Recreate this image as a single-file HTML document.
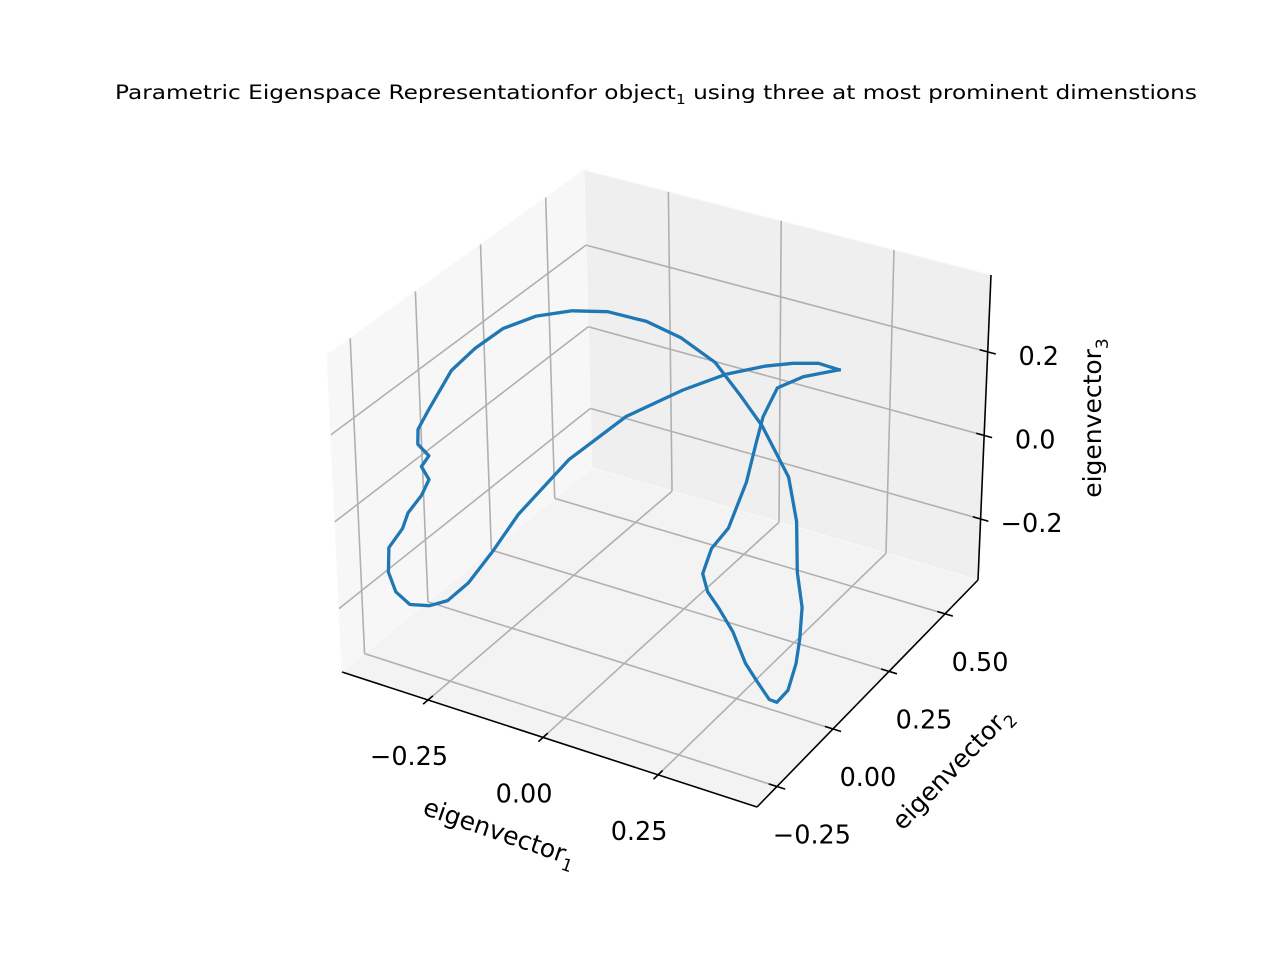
<!DOCTYPE html>
<html><head><meta charset="utf-8"><style>
html,body{margin:0;padding:0;background:#fff;}
svg{display:block;font-family:"DejaVu Sans","Liberation Sans",sans-serif;}
</style></head><body>
<svg id="chart" width="1280" height="960" viewBox="0 0 1280 960" xmlns="http://www.w3.org/2000/svg">
<rect width="1280" height="960" fill="#ffffff"/>
<text x="115" y="99" font-size="19.5" textLength="1082" lengthAdjust="spacingAndGlyphs" fill="#000">Parametric Eigenspace Representationfor object<tspan font-size="13" dy="5">1</tspan><tspan dy="-5"> using three at most prominent dimenstions</tspan></text>
<g id="panes"></g>
<g id="grid"></g>
<g id="axes"></g>
<g id="series"></g>
<text transform="translate(497,840) rotate(19)" text-anchor="middle" font-size="25">eigenvector<tspan font-size="17" dy="7">1</tspan></text>
<text transform="translate(958,774) rotate(-46)" text-anchor="middle" font-size="25">eigenvector<tspan font-size="17" dy="7">2</tspan></text>
<text transform="translate(1101,418) rotate(-90)" text-anchor="middle" font-size="25">eigenvector<tspan font-size="17" dy="7">3</tspan></text>
</svg>
<script>
const xLim = [-0.437, 0.465];
const yLim = [-0.339, 0.647];
const zLim = [-0.346, 0.384];
const xTicks = [-0.25, 0.0, 0.25];
const yTicks = [-0.25, 0.0, 0.25, 0.5];
const zTicks = [-0.2, 0.0, 0.2];
const xTickLabels = ["\u22120.25", "0.00", "0.25"];
const yTickLabels = ["\u22120.25", "0.00", "0.25", "0.50"];
const zTickLabels = ["\u22120.2", "0.0", "0.2"];
const curveX = [0.395,0.350,0.295,0.233,0.148,0.055,-0.071,-0.200,-0.316,-0.378,-0.435,-0.484,-0.526,-0.571,-0.602,-0.617,-0.613,-0.580,-0.566,-0.533,-0.515,-0.531,-0.513,-0.537,-0.535,-0.511,-0.455,-0.400,-0.338,-0.264,-0.185,-0.107,-0.023,0.051,0.126,0.182,0.228,0.286,0.304,0.306,0.317,0.312,0.304,0.286,0.261,0.244,0.217,0.190,0.162,0.130,0.106,0.095,0.115,0.153,0.193,0.215,0.230,0.261,0.317,0.395];
const curveZ = [0.378,0.380,0.364,0.339,0.295,0.231,0.131,-0.010,-0.175,-0.284,-0.376,-0.434,-0.460,-0.472,-0.452,-0.410,-0.350,-0.294,-0.252,-0.199,-0.156,-0.130,-0.099,-0.079,-0.043,0.008,0.122,0.192,0.257,0.309,0.345,0.366,0.368,0.352,0.316,0.254,0.199,0.098,0.001,-0.116,-0.194,-0.269,-0.328,-0.395,-0.431,-0.430,-0.398,-0.363,-0.299,-0.253,-0.224,-0.185,-0.120,-0.061,0.058,0.157,0.221,0.297,0.339,0.378];
const curveY = curveX.map(() => 0.154);

const NS = "http://www.w3.org/2000/svg";
const K = {
  A:[342,672], B:[757,807], C:[978,580], D:[592,468],
  A2:[327,355], B2:[752,477], C2:[991,275], D2:[584,170]
};
function lerp(p,q,t){return [p[0]+(q[0]-p[0])*t, p[1]+(q[1]-p[1])*t];}
function P(x,y,z){
  const u=(x-xLim[0])/(xLim[1]-xLim[0]);
  const v=(y-yLim[0])/(yLim[1]-yLim[0]);
  const w=(z-zLim[0])/(zLim[1]-zLim[0]);
  const f=lerp(lerp(K.A,K.B,u), lerp(K.D,K.C,u), v);
  const t=lerp(lerp(K.A2,K.B2,u), lerp(K.D2,K.C2,u), v);
  return lerp(f,t,w);
}
function mk(tag, parent, attrs){
  const e=document.createElementNS(NS,tag);
  for(const k in attrs) e.setAttribute(k, attrs[k]);
  parent.appendChild(e); return e;
}
function line(parent,p,q,stroke,sw){
  return mk("line",parent,{x1:p[0],y1:p[1],x2:q[0],y2:q[1],stroke:stroke,"stroke-width":sw});
}
function poly(parent,pts,fill){
  return mk("polygon",parent,{points:pts.map(p=>p.join(",")).join(" "),fill:fill,stroke:"#f8f8f8","stroke-width":1});
}
const panes=document.getElementById("panes");
const [x0,x1]=xLim,[y0,y1]=yLim,[z0,z1]=zLim;
let e;
e=poly(panes,[P(x0,y0,z0),P(x0,y1,z0),P(x0,y1,z1),P(x0,y0,z1)],"#f7f7f7");


e=poly(panes,[P(x0,y1,z0),P(x1,y1,z0),P(x1,y1,z1),P(x0,y1,z1)],"#efefef");


e=poly(panes,[P(x0,y0,z0),P(x1,y0,z0),P(x1,y1,z0),P(x0,y1,z0)],"#f3f3f3");



const grid=document.getElementById("grid");
const GC="#b0b0b0", GW=1.6;
xTicks.forEach(t=>{
  e=line(grid,P(t,y0,z0),P(t,y1,z0),GC,GW);
  
  
  e=line(grid,P(t,y1,z0),P(t,y1,z1),GC,GW);
  
  
});
yTicks.forEach(t=>{
  e=line(grid,P(x0,t,z0),P(x1,t,z0),GC,GW);
  
  
  e=line(grid,P(x0,t,z0),P(x0,t,z1),GC,GW);
  
  
});
zTicks.forEach(t=>{
  e=line(grid,P(x0,y0,t),P(x0,y1,t),GC,GW);
  
  
  e=line(grid,P(x0,y1,t),P(x1,y1,t),GC,GW);
  
  
});

const axes=document.getElementById("axes");
e=line(axes,P(x0,y0,z0),P(x1,y0,z0),"#000",1.6);


e=line(axes,P(x1,y0,z0),P(x1,y1,z0),"#000",1.6);


e=line(axes,P(x1,y1,z0),P(x1,y1,z1),"#000",1.6);


const dy=(y1-y0)*0.02, dx=(x1-x0)*0.02;
function label(txt,x,y,anchor,name){
  const t=mk("text",axes,{x:x,y:y,"text-anchor":anchor,"dominant-baseline":"central","font-size":25.5,fill:"#000"});
  t.textContent=txt;
  
  
}
xTicks.forEach((t,i)=>{
  e=line(axes,P(t,y0-dy,z0),P(t,y0+dy,z0),"#000",1.6);
  
  
  const p=P(t,y0,z0);
  label(xTickLabels[i],p[0]-19,p[1]+57,"middle","x-tick-label");
});
yTicks.forEach((t,i)=>{
  e=line(axes,P(x1-dx,t,z0),P(x1+dx,t,z0),"#000",1.6);
  
  
  const p=P(x1,t,z0);
  label(yTickLabels[i],p[0]+35,p[1]+49,"middle","y-tick-label");
});
zTicks.forEach((t,i)=>{
  e=line(axes,P(x1-dx,y1,t),P(x1+dx,y1,t),"#000",1.6);
  
  
  const p=P(x1,y1,t);
  label(zTickLabels[i],p[0]+51,p[1]+5,"middle","z-tick-label");
});

const series=document.getElementById("series");
const pts=curveX.map((x,i)=>P(x,curveY[i],curveZ[i]));
const pl=mk("polyline",series,{points:pts.map(p=>p[0].toFixed(1)+","+p[1].toFixed(1)).join(" "),fill:"none",stroke:"#1f77b4","stroke-width":3.3,"stroke-linejoin":"round","stroke-linecap":"square"});


</script>
</body></html>
